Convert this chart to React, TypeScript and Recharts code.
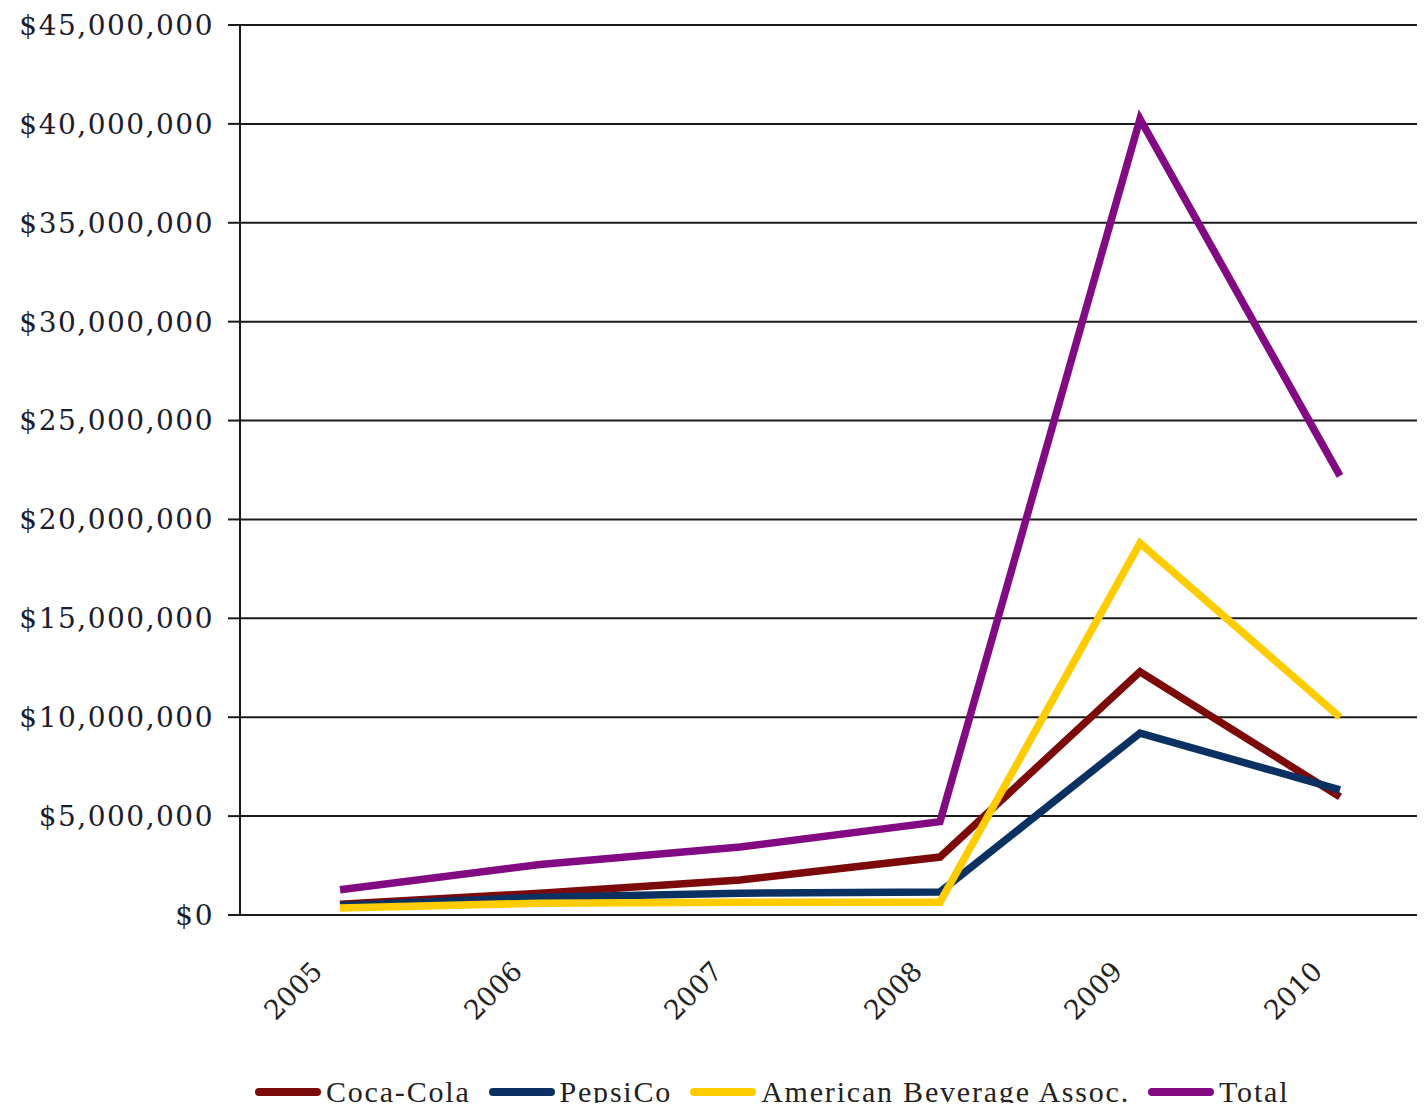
import { LineChart, Line, XAxis, YAxis, CartesianGrid } from "recharts";

const YEARS = ["2005", "2006", "2007", "2008", "2009", "2010"];
const COCA_COLA = [550000, 1100000, 1770000, 2930000, 12300000, 5970000];
const PEPSICO = [480000, 900000, 1100000, 1160000, 9200000, 6330000];
const ABA = [350000, 600000, 650000, 650000, 18800000, 10000000];
const TOTAL = [1280000, 2550000, 3440000, 4720000, 40250000, 22200000];
const Y_TICKS = [0, 5000000, 10000000, 15000000, 20000000, 25000000, 30000000, 35000000, 40000000, 45000000];
const X_EDGES = [0, 1, 2, 3, 4, 5, 6];

const SERIES = [
    { key: "coca", name: "Coca-Cola", color: "#7c0a0a", values: COCA_COLA },
    { key: "pepsi", name: "PepsiCo", color: "#0b3163", values: PEPSICO },
    { key: "aba", name: "American Beverage Assoc.", color: "#ffcc00", values: ABA },
    { key: "total", name: "Total", color: "#820a82", values: TOTAL },
];

const data = YEARS.map((year, i) => {
    const row: Record<string, string | number> = { year };
    SERIES.forEach((s) => { row[s.key] = s.values[i]; });
    return row;
});

const AXIS_COLOR = "#1a1a1a";
const fmtMoney = (v: number) => "$" + v.toLocaleString("en-US");

// Etiqueta del año girada -45°, anclada por su final cerca del centro de la categoría
function YearTick({ x, y, payload }: any) {
    const ax = x - 16;
    const ay = y + 50;
    return (
        <text
            x={ax}
            y={ay}
            transform={`rotate(-45 ${ax} ${ay})`}
            textAnchor="end"
            fontFamily="'DejaVu Serif', serif"
            fontSize={27}
            fill="#222"
        >
            {payload.value}
        </text>
    );
}

export default function App() {
    return (
        <div style={{ margin: -8, width: 1425, height: 1111, overflow: "hidden", position: "relative", background: "#fff" }}>
            <LineChart width={1450} height={1111} data={data} margin={{ top: 25, right: 10, left: 0, bottom: 0 }}>
                <CartesianGrid horizontal vertical={false} stroke={AXIS_COLOR} strokeWidth={2} strokeOpacity={1} />
                <XAxis
                    xAxisId="edges"
                    type="number"
                    domain={[0, 6]}
                    ticks={X_EDGES}
                    allowDataOverflow
                    tickFormatter={() => ""}
                    tickSize={12}
                    tickLine={{ stroke: AXIS_COLOR, strokeWidth: 2 }}
                    axisLine={{ stroke: AXIS_COLOR, strokeWidth: 2 }}
                    height={0}
                />
                <XAxis
                    dataKey="year"
                    padding={{ left: 100, right: 100 }}
                    tick={<YearTick />}
                    tickLine={false}
                    axisLine={false}
                    interval={0}
                    height={196}
                />
                <YAxis
                    width={240}
                    domain={[0, 45000000]}
                    ticks={Y_TICKS}
                    interval={0}
                    tickFormatter={fmtMoney}
                    tickSize={12}
                    tickMargin={14}
                    tickLine={{ stroke: AXIS_COLOR, strokeWidth: 2 }}
                    axisLine={{ stroke: AXIS_COLOR, strokeWidth: 2 }}
                    tick={{ fontFamily: "'DejaVu Serif', serif", fontSize: 28, letterSpacing: 1.5, fill: "#1c1c30" }}
                />
                {SERIES.map((s) => (
                    <Line
                        key={s.key}
                        dataKey={s.key}
                        name={s.name}
                        stroke={s.color}
                        strokeWidth={7.5}
                        strokeLinejoin="miter"
                        dot={false}
                        activeDot={false}
                        isAnimationActive={false}
                    />
                ))}
            </LineChart>
            <div style={{
                position: "absolute", top: 1075, left: 255, display: "flex", alignItems: "center",
                fontFamily: "'Liberation Serif', serif", fontSize: 30, lineHeight: "34px", color: "#222", whiteSpace: "nowrap",
            }}>
                {SERIES.map((s) => (
                    <div key={s.key} style={{ display: "flex", alignItems: "center", marginRight: 18 }}>
                        <span style={{ display: "inline-block", width: 66, height: 8, borderRadius: 4, background: s.color, marginRight: 5 }} />
                        <span style={{ letterSpacing: 1.8 }}>{s.name}</span>
                    </div>
                ))}
            </div>
        </div>
    );
}
